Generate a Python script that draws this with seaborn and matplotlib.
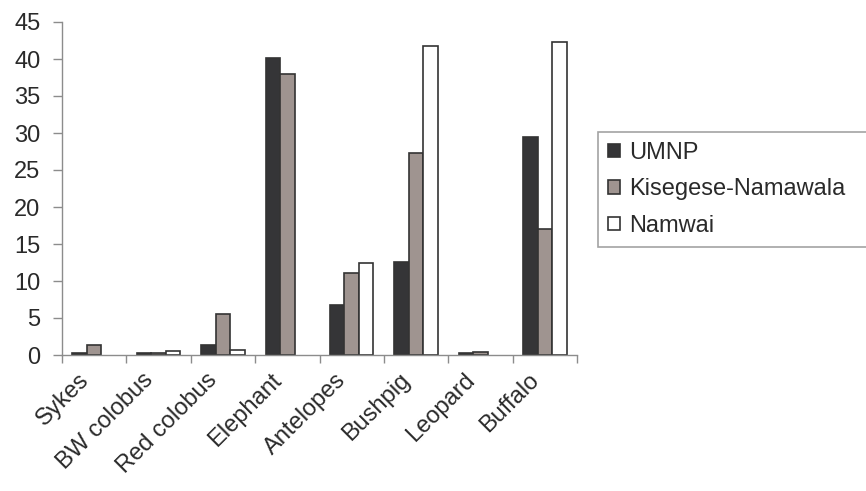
import numpy as np
import pandas as pd
import matplotlib
matplotlib.use("Agg")
import matplotlib.pyplot as plt
import matplotlib.transforms as mtrans
import seaborn as sns

animals = ['Sykes', 'BW colobus', 'Red colobus', 'Elephant', 'Antelopes', 'Bushpig', 'Leopard', 'Buffalo']
sites = ['UMNP', 'Kisegese-Namawala', 'Namwai']
# None = no bar recorded for that site
umnp = [0.3, 0.3, 1.35, 40.2, 6.7, 12.6, 0.25, 29.4]
kisegese = [1.3, 0.3, 5.5, 38.0, 11.1, 27.3, 0.45, 17.0]
namwai = [None, 0.5, 0.7, None, 12.5, 41.8, None, 42.3]
yticks = list(range(0, 50, 5))

rows = []
for site, vals in zip(sites, [umnp, kisegese, namwai]):
    for a, v in zip(animals, vals):
        rows.append({'Animal': a, 'Site': site, 'Value': np.nan if v is None else v})
df = pd.DataFrame(rows)

sns.set_style("ticks")
plt.rcParams['font.family'] = ['Liberation Sans', 'DejaVu Sans']
colors = {'UMNP': '#353438', 'Kisegese-Namawala': '#a1938e', 'Namwai': '#ffffff'}
axis_col = '#8c8c8c'
txt_col = '#2a2a2a'
fs = 17

fig = plt.figure(figsize=(8.66, 4.91), dpi=100)
ax = fig.add_axes([62 / 866, 1 - 355 / 491, (577 - 62) / 866, (355 - 22) / 491])

sns.barplot(data=df, x='Animal', y='Value', hue='Site', palette=colors, order=animals,
            hue_order=sites, width=0.675, edgecolor='#333333', linewidth=1.2,
            errorbar=None, ax=ax, legend=True)

ax.set_xlim(-0.5, len(animals) - 0.5)
ax.set_ylim(0, 45)
ax.set_yticks(yticks)
ax.set_xlabel(''); ax.set_ylabel('')

# tick marks at category boundaries, labels drawn below each category centre
ax.set_xticks(np.arange(len(animals) + 1) - 0.5)
ax.set_xticklabels([])
ax.tick_params(axis='x', which='major', length=6, color=axis_col, width=1)
ax.tick_params(axis='y', length=6.5, color=axis_col, width=1, labelsize=fs, labelcolor=txt_col, pad=9)

lab_tr = mtrans.offset_copy(ax.get_xaxis_transform(), fig=fig, x=-9, y=-22, units='dots')
for i, a in enumerate(animals):
    ax.text(i, 0, a, transform=lab_tr, rotation=45, ha='right', va='center',
            rotation_mode='anchor', fontsize=fs, color=txt_col, clip_on=False)

for s in ['top', 'right']:
    ax.spines[s].set_visible(False)
for s in ['left', 'bottom']:
    ax.spines[s].set_color(axis_col)
    ax.spines[s].set_linewidth(1)

h, l = ax.get_legend_handles_labels()
ax.get_legend().remove()
leg = fig.legend(h, l, loc='center left',
                 bbox_to_anchor=(598 / 866, 1 - 248 / 491, 0.4, 117 / 491), mode='expand',
                 fontsize=fs, frameon=True, fancybox=False, edgecolor=axis_col,
                 handlelength=0.5, handleheight=0.5, handletextpad=0.4, labelspacing=0.62,
                 borderpad=0.42, borderaxespad=0)
leg.get_frame().set_linewidth(1.2)
for t in leg.get_texts():
    t.set_color(txt_col)

fig.savefig('out.png', dpi=100)
